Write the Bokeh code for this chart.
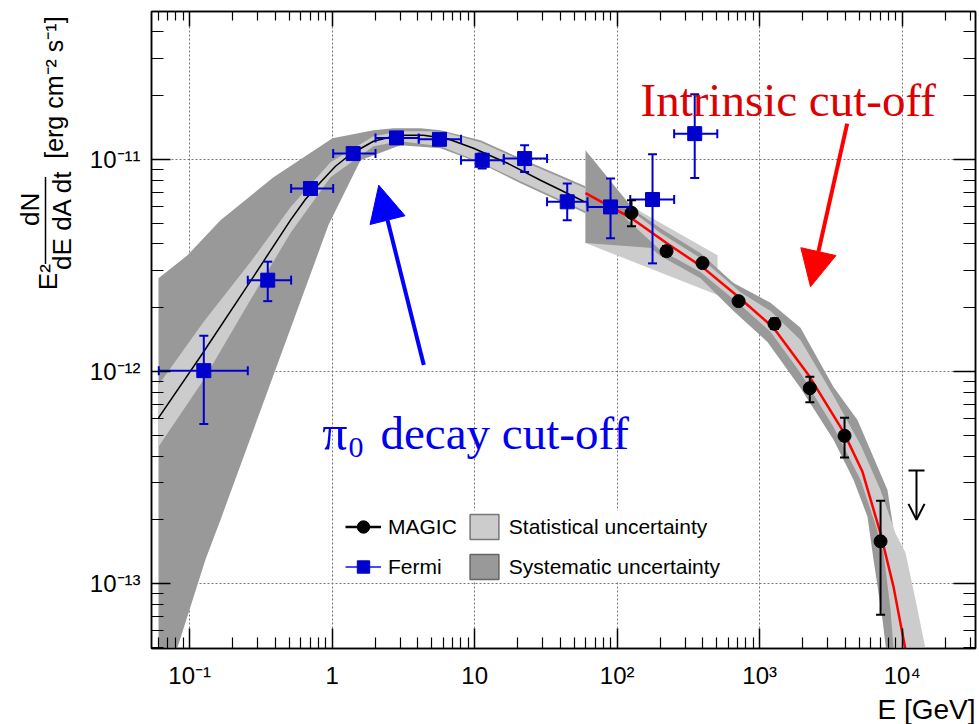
import math
from bokeh.plotting import figure
from bokeh.layouts import row
from bokeh.core.properties import value
from bokeh.models import (Range1d, LogAxis, FixedTicker, Whisker, TeeHead, ColumnDataSource,
                          Label, Arrow, NormalHead, OpenHead, Legend, LegendItem, Title)
from bokeh.embed import file_html
from bokeh.resources import INLINE

# ---------------- data ----------------
# Fermi-LAT points [GeV], E^2 dN/dE [erg cm^-2 s^-1]
fermi_E = [0.1256, 0.353, 0.704, 1.404, 2.827, 5.66, 11.29, 22.4, 44.6, 89.8, 177, 350]
fermi_E_lo = [0.0607, 0.2557, 0.515, 1.016, 2.013, 4.05, 8.02, 16.0, 32.2, 61.9, 123.5, 251]
fermi_E_hi = [0.2557, 0.515, 1.016, 2.013, 4.05, 8.02, 16.0, 32.2, 61.9, 123.5, 251, 504]
fermi_F = [1.011e-12, 2.70e-12, 7.30e-12, 1.067e-11, 1.265e-11, 1.246e-11, 9.92e-12, 1.011e-11,
           6.32e-12, 5.98e-12, 6.48e-12, 1.325e-11]
fermi_F_lo = [5.67e-13, 2.15e-12, 6.92e-12, 1.022e-11, 1.21e-11, 1.18e-11, 9.07e-12, 8.74e-12,
              5.18e-12, 4.25e-12, 3.24e-12, 8.19e-12]
fermi_F_hi = [1.477e-12, 3.30e-12, 7.71e-12, 1.114e-11, 1.32e-11, 1.315e-11, 1.067e-11, 1.167e-11,
              7.71e-12, 8.14e-12, 1.059e-11, 2.03e-11]

# MAGIC points
magic_E = [126, 222, 397, 711, 1270, 2248, 3939, 7050]
magic_F = [5.61e-12, 3.70e-12, 3.25e-12, 2.15e-12, 1.68e-12, 8.36e-13, 4.98e-13, 1.585e-13]
magic_F_lo = [4.85e-12, 3.51e-12, 3.11e-12, 2.06e-12, 1.59e-12, 7.18e-13, 3.94e-13, 7.15e-14]
magic_F_hi = [6.43e-12, 3.91e-12, 3.40e-12, 2.25e-12, 1.78e-12, 9.47e-13, 6.07e-13, 2.46e-13]
# MAGIC upper limit
ul_E = [12600]
ul_F = [3.42e-13]
ul_F_tip = [2.00e-13]

# Fermi model curve (black)
fermi_model_E = [0.0604, 0.125, 0.2672, 0.5097, 0.6497, 0.8277, 1.0548, 1.344, 1.949, 2.872,
                 4.372, 6.444, 9.809, 16.99, 28.96, 58.0]
fermi_model_F = [6.05e-13, 1.238e-12, 2.67e-12, 5.18e-12, 6.50e-12, 7.81e-12, 9.30e-12, 1.059e-11,
                 1.22e-11, 1.301e-11, 1.301e-11, 1.253e-11, 1.13e-11, 9.61e-12, 7.99e-12, 6.36e-12]

# MAGIC intrinsic model (red)
magic_model_E = [59.9, 126.0, 221.8, 396.8, 710.1, 1250, 2200, 3873, 5265, 7041, 8689, 10380, 11810]
magic_model_F = [6.94e-12, 5.29e-12, 4.04e-12, 3.11e-12, 2.25e-12, 1.61e-12, 9.65e-13, 5.20e-13,
                 3.37e-13, 1.73e-13, 9.69e-14, 5.17e-14, 3.17e-14]

# Fermi systematic band
fsys_up_E = [0.0604, 0.0965, 0.1644, 0.3874, 1.005, 1.949, 2.693, 4.165, 5.754, 10.98, 20.96, 59.9]
fsys_up_F = [2.76e-12, 3.54e-12, 5.18e-12, 8.25e-12, 1.26e-11, 1.374e-11, 1.404e-11, 1.404e-11,
             1.374e-11, 1.233e-11, 1.014e-11, 7.49e-12]
fsys_lo_E = [0.0604, 0.0817, 0.1291, 0.1644, 0.9419, 1.580, 3.015, 5.754, 10.98, 20.96, 59.9]
fsys_lo_F = [2.29e-14, 4.95e-14, 1.30e-13, 2.00e-13, 4.91e-12, 9.92e-12, 1.167e-11, 1.13e-11,
             9.61e-12, 7.73e-12, 5.59e-12]
# Fermi statistical band
fstat_E = [0.0604, 0.125, 0.2672, 0.5097, 0.9729, 1.949, 3.015, 5.754, 10.98, 20.96, 59.9]
fstat_up_F = [8.66e-13, 1.714e-12, 3.284e-12, 5.96e-12, 9.71e-12, 1.288e-11, 1.359e-11, 1.359e-11,
              1.206e-11, 9.92e-12, 7.33e-12]
fstat_lo_F = [4.42e-13, 9.14e-13, 2.18e-12, 4.50e-12, 8.25e-12, 1.155e-11, 1.22e-11, 1.155e-11,
              9.71e-12, 7.90e-12, 5.71e-12]

# high-energy Fermi butterfly
bfly_E = [59.9, 505.6]
bfly_up_F = [7.99e-12, 3.54e-12]
bfly_lo_F = [4.04e-12, 2.30e-12]
bow_E = [59.9, 185.7]
bow_up_F = [1.106e-11, 4.35e-12]
bow_lo_F = [4.04e-12, 3.82e-12]

# MAGIC systematic band
msys_up_E = [114.4, 201.3, 384.3, 654.8, 1191, 1933, 3296, 4857, 7886, 8689, 9268, 9572, 9886]
msys_up_F = [6.16e-12, 4.75e-12, 3.62e-12, 2.62e-12, 2.11e-12, 1.61e-12, 8.47e-13, 5.92e-13,
             2.77e-13, 1.80e-13, 1.045e-13, 4.95e-14, 2.29e-14]
msys_lo_E = [114.4, 201.3, 384.3, 654.8, 1134, 1933, 3296, 4552, 5708, 6289, 7273, 8016, 8279]
msys_lo_F = [4.85e-12, 3.51e-12, 2.76e-12, 1.93e-12, 1.38e-12, 8.38e-13, 4.77e-13, 3.09e-13,
             2.07e-13, 1.30e-13, 6.78e-14, 3.91e-14, 2.29e-14]
# MAGIC statistical band
mstat_up_E = [114.4, 201.3, 384.3, 733.5, 1191, 1933, 3296, 5098, 7041, 8974, 10550, 12400, 14570, 17130]
mstat_up_F = [6.03e-12, 4.50e-12, 3.43e-12, 2.37e-12, 1.93e-12, 1.41e-12, 7.69e-13, 4.52e-13,
              2.77e-13, 1.73e-13, 1.40e-13, 8.41e-14, 4.95e-14, 2.85e-14]
mstat_lo_E = [114.4, 201.3, 384.3, 733.5, 1191, 1933, 3296, 5098, 6496, 7393, 8279, 8689, 9268]
mstat_lo_F = [5.29e-12, 3.74e-12, 2.95e-12, 2.06e-12, 1.54e-12, 9.86e-13, 5.49e-13, 3.09e-13,
              1.90e-13, 1.40e-13, 7.55e-14, 4.95e-14, 2.85e-14]

x_ticks = [0.1, 1.0, 10.0, 100.0, 1000.0, 10000.0]
x_tick_labels = ["10⁻¹", "1", "10", "10²", "10³", "10⁴"]
y_ticks = [1e-13, 1e-12, 1e-11]
y_tick_labels = ["10⁻¹³", "10⁻¹²", "10⁻¹¹"]
legend_labels = ["MAGIC", "Fermi", "Statistical uncertainty", "Systematic uncertainty"]
x_title = "E [GeV]"
y_title_parts = ["[erg cm⁻² s⁻¹]", "dN", "dE dA dt", "E²"]

# ---------------- styles ----------------
FERMI = "#0000cc"
DARK = "#999999"
LIGHT = "#cccccc"
SANS = "Liberation Sans"
SERIF = "Liberation Serif"
NAN = float("nan")
LAB_W = 76
H = 724

x_range = Range1d(0.05395, 32690)
y_range = Range1d(4.95e-14, 4.99e-11)

p = figure(width=979 - LAB_W, height=H, x_axis_type="log", y_axis_type="log",
           x_range=x_range, y_range=y_range, output_backend="svg", toolbar_location=None,
           min_border_left=151 - LAB_W, min_border_right=4, min_border_top=11, min_border_bottom=75)
p.background_fill_color = "white"
p.outline_line_color = "black"
p.outline_line_width = 1.5

x_minor = [k * 10.0 ** n for n in range(-2, 5) for k in range(2, 10)]
y_minor = [k * 10.0 ** n for n in range(-14, -10) for k in range(2, 10)]
xt = FixedTicker(ticks=x_ticks, minor_ticks=x_minor)
yt = FixedTicker(ticks=y_ticks, minor_ticks=y_minor)


def style_axis(ax, ticker, maj, mnr, show_labels, ov=None, standoff=10):
    ax.ticker = ticker
    ax.axis_line_color = "black"
    ax.axis_line_width = 1.5
    ax.major_tick_in = maj
    ax.major_tick_out = 0
    ax.minor_tick_in = mnr
    ax.minor_tick_out = 0
    ax.major_tick_line_color = "black"
    ax.major_tick_line_width = 1.5
    ax.minor_tick_line_color = "black"
    ax.minor_tick_line_width = 1.2
    if show_labels:
        ax.major_label_overrides = ov
        ax.major_label_text_font = SANS
        ax.major_label_text_font_size = "24px"
        ax.major_label_text_color = "black"
        ax.major_label_standoff = standoff
    else:
        ax.major_label_text_font_size = "1px"
        ax.major_label_text_alpha = 0
        ax.major_label_standoff = 0


style_axis(p.xaxis[0], xt, 20, 11, True, dict(zip(x_ticks, x_tick_labels)), 13)
style_axis(p.yaxis[0], yt, 19, 12, True, dict(zip(y_ticks, y_tick_labels)), 11)
top_ax = LogAxis()
style_axis(top_ax, xt, 15, 9, False)
p.add_layout(top_ax, "above")
right_ax = LogAxis()
style_axis(right_ax, yt, 22, 12, False)
p.add_layout(right_ax, "right")
p.add_layout(Title(text=x_title, align="right", text_font=SANS, text_font_size="28px",
                   text_font_style="normal", text_color="black", standoff=0), "below")

p.xgrid.ticker = xt
p.ygrid.ticker = yt
for g in (p.xgrid[0], p.ygrid[0]):
    g.grid_line_color = "#777777"
    g.grid_line_width = 1
    g.grid_line_dash = "2 2"


def poly(upE, upF, loE, loF):
    return list(upE) + list(loE)[::-1], list(upF) + list(loF)[::-1]


# ---------------- bands ----------------
bx, by = poly(fsys_up_E, fsys_up_F, fsys_lo_E, fsys_lo_F)
p.patch(bx, by, fill_color=DARK, line_color=None)
bx, by = poly(fstat_E, fstat_up_F, fstat_E, fstat_lo_F)
p.patch(bx, by, fill_color=LIGHT, line_color=None)
bx, by = poly(bfly_E, bfly_up_F, bfly_E, bfly_lo_F)
p.patch(bx, by, fill_color=LIGHT, line_color=None)
bx, by = poly(bow_E, bow_up_F, bow_E, bow_lo_F)
p.patch(bx, by, fill_color=DARK, line_color=None)
bx, by = poly(msys_up_E, msys_up_F, msys_lo_E, msys_lo_F)
p.patch(bx, by, fill_color=DARK, line_color=None)
bx, by = poly(mstat_up_E, mstat_up_F, mstat_lo_E, mstat_lo_F)
p.patch(bx, by, fill_color=LIGHT, line_color=None)

# ---------------- curves ----------------
p.line(fermi_model_E, fermi_model_F, line_color="black", line_width=1.5)
p.line(magic_model_E, magic_model_F, line_color="#ff0000", line_width=2.5)

# ---------------- data points ----------------
fsrc = ColumnDataSource(dict(E=fermi_E, Elo=fermi_E_lo, Ehi=fermi_E_hi,
                             F=fermi_F, Flo=fermi_F_lo, Fhi=fermi_F_hi))
msrc = ColumnDataSource(dict(E=magic_E, F=magic_F, Flo=magic_F_lo, Fhi=magic_F_hi))
usrc = ColumnDataSource(dict(E=ul_E, F=ul_F, Ft=ul_F_tip))

p.add_layout(Whisker(source=fsrc, base="E", lower="Flo", upper="Fhi", dimension="height",
                     line_color=FERMI, line_width=2, level="glyph",
                     upper_head=TeeHead(size=9, line_color=FERMI, line_width=2),
                     lower_head=TeeHead(size=9, line_color=FERMI, line_width=2)))
p.add_layout(Whisker(source=fsrc, base="F", lower="Elo", upper="Ehi", dimension="width",
                     line_color=FERMI, line_width=2, level="glyph",
                     upper_head=TeeHead(size=9, line_color=FERMI, line_width=2),
                     lower_head=TeeHead(size=9, line_color=FERMI, line_width=2)))
p.add_layout(Whisker(source=msrc, base="E", lower="Flo", upper="Fhi", dimension="height",
                     line_color="black", line_width=2, level="glyph",
                     upper_head=TeeHead(size=9, line_color="black", line_width=2),
                     lower_head=TeeHead(size=9, line_color="black", line_width=2)))
p.scatter("E", "F", source=fsrc, marker="square", size=14, fill_color=FERMI, line_color=FERMI)
p.scatter("E", "F", source=msrc, marker="circle", size=13, fill_color="black", line_color="black")
p.add_layout(Arrow(source=usrc, x_start="E", y_start="F", x_end="E", y_end="Ft",
                   line_color="black", line_width=2,
                   start=TeeHead(size=16, line_color="black", line_width=2),
                   end=OpenHead(size=16, line_color="black", line_width=2)))

# ---------------- annotations ----------------
p.add_layout(Label(x=145.7, y=1.902e-11, text="Intrinsic cut-off", text_font=SERIF,
                   text_font_size="47px", text_color="#dd0000", text_baseline="alphabetic"))
p.add_layout(Label(x=0.851, y=5.14e-13, text="π", text_font=SERIF,
                   text_font_size="50px", text_color="#0000ee", text_baseline="alphabetic"))
p.add_layout(Label(x=1.30, y=4.37e-13, text="0", text_font=SERIF,
                   text_font_size="30px", text_color="#0000ee", text_baseline="alphabetic"))
p.add_layout(Label(x=2.183, y=5.14e-13, text="decay cut-off", text_font=SERIF,
                   text_font_size="47px", text_color="#0000ee", text_baseline="alphabetic"))
p.add_layout(Arrow(x_start=4111, y_start=1.477e-11, x_end=2273, y_end=2.513e-12,
                   line_color="#ff0000", line_width=4,
                   end=NormalHead(size=36, fill_color="#ff0000", line_color="#ff0000")))
p.add_layout(Arrow(x_start=4.393, y_start=1.075e-12, x_end=2.123, y_end=7.57e-12,
                   line_color="#0000ff", line_width=4,
                   end=NormalHead(size=36, fill_color="#0000ff", line_color="#0000ff")))

# ---------------- legend ----------------
lm1 = p.line([NAN], [NAN], line_color="black", line_width=2.5)
lm2 = p.scatter([NAN], [NAN], marker="circle", size=11, fill_color="black", line_color="black")
lf1 = p.line([NAN], [NAN], line_color="#4a4aff", line_width=2)
lf2 = p.scatter([NAN], [NAN], marker="square", size=12, fill_color=FERMI, line_color=FERMI)
ls = p.patch([NAN], [NAN], fill_color=LIGHT, line_color="#777777", line_width=1.5)
ly = p.patch([NAN], [NAN], fill_color=DARK, line_color="#666666", line_width=1.5)
legend = Legend(items=[LegendItem(label=legend_labels[0], renderers=[lm1, lm2]),
                       LegendItem(label=legend_labels[1], renderers=[lf1, lf2]),
                       LegendItem(label=legend_labels[2], renderers=[ls]),
                       LegendItem(label=legend_labels[3], renderers=[ly])],
                location=(194, 66), ncols=2, orientation="vertical",
                glyph_width=36, glyph_height=31, label_standoff=7, spacing=9, padding=8, margin=0,
                label_text_font=SANS, label_text_font_size="21px", label_text_color="black",
                border_line_color=None, background_fill_color="white", background_fill_alpha=1.0)
p.add_layout(legend, "center")

# ---------------- y-axis title strip (x = page px, y = px up from page bottom) ----------------
lab = figure(width=LAB_W, height=H, x_range=Range1d(0, LAB_W), y_range=Range1d(0, H),
             output_backend="svg", toolbar_location=None, min_border=0,
             x_axis_location=None, y_axis_location=None)
lab.outline_line_color = None
lab.xgrid.visible = False
lab.ygrid.visible = False
lab.border_fill_color = "white"
lab.background_fill_color = "white"
rot = math.pi / 2
lab.text(x=[53], y=[H - 86.5], text=[y_title_parts[0]], angle=rot, text_align="center",
         text_baseline="middle", text_font=value(SANS), text_font_size=value("25px"),
         text_color="black")
lab.text(x=[29, 61, 47], y=[H - 225, H - 237, H - 302], text=y_title_parts[1:], angle=rot,
         text_align="center", text_baseline="middle", text_font=value(SANS),
         text_font_size=value("26px"), text_color="black")
lab.segment(x0=[45], y0=[H - 188], x1=[45], y1=[H - 287], line_color="black", line_width=1.5)

layout = row(lab, p)
open("out.html", "w").write(file_html(layout, INLINE))
